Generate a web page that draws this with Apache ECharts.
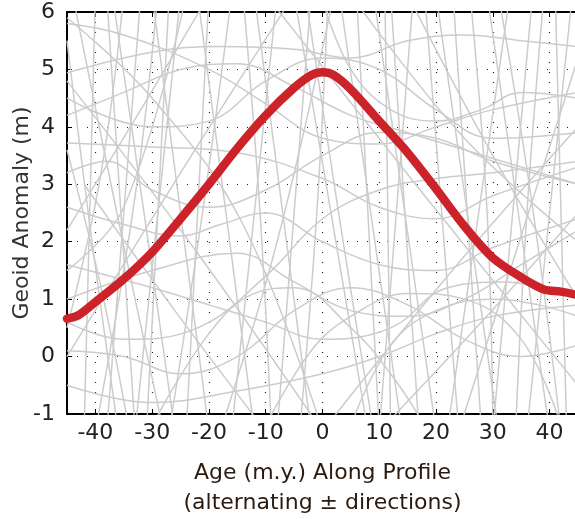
<!DOCTYPE html>
<html>
<head>
<meta charset="utf-8">
<script src="https://cdn.jsdelivr.net/npm/echarts@6/dist/echarts.min.js"></script>
<style>
  html, body { margin: 0; padding: 0; background: #fff; }
  #chart { width: 575px; height: 519px; }
</style>
</head>
<body>
<div id="chart"></div>
<script>
// stacked profile (red)
var profileAge = [-45, -43, -40, -35, -30, -25, -20, -15, -10, -5, -2, 0, 2, 5, 10, 15, 20, 25, 30, 35, 39, 42, 45]
var profileGeoid = [0.66, 0.72, 0.95, 1.35, 1.82, 2.4, 3.0, 3.63, 4.2, 4.68, 4.9, 4.95, 4.9, 4.65, 4.1, 3.55, 2.92, 2.27, 1.72, 1.38, 1.17, 1.13, 1.07]

// individual profiles (gray), steep ones
var steepProfiles = [
  [[-45, 5.5], [-41, 2.3], [-36, -1.3]],
  [[-44, 6.3], [-36, 2.4], [-28, -1.3]],
  [[-40, 6.3], [-41, 2.5], [-42, -1.3]],
  [[-38, 6.3], [-35.5, 2.5], [-33, -1.3]],
  [[-35, 6.3], [-39, 3.2], [-45, 0.5]],
  [[-32, 6.3], [-35, 2.5], [-38, -1.3]],
  [[-30, 6.3], [-25, 2.5], [-20, -1.3]],
  [[-27, 6.3], [-29, 2.5], [-31, -1.3]],
  [[-25, 6.3], [-29, 2.5], [-33, -1.3]],
  [[-22, 6.3], [-17, 2.5], [-12, -1.3]],
  [[-20, 6.3], [-22, 2.5], [-24, -1.3]],
  [[-16, 6.3], [-21, 2.6], [-27, -1.3]],
  [[-12, 6.3], [-7, 2.5], [-2, -1.3]],
  [[-8, 6.3], [-12, 2.5], [-16, -1.3]],
  [[-5, 6.3], [1.5, 2.5], [8, -1.3]],
  [[-2, 6.3], [-5, 2.5], [-8, -1.3]],
  [[3, 6.3], [8.5, 2.5], [14, -1.3]],
  [[6, 6.3], [8, 2.5], [10, -1.3]],
  [[9, 6.3], [14.5, 2.5], [20, -1.3]],
  [[12, 6.3], [14.5, 2.5], [17, -1.3]],
  [[16, 6.3], [13, 2.5], [10, -1.3]],
  [[20, 6.3], [25.5, 2.5], [31, -1.3]],
  [[23, 6.3], [25.5, 2.5], [28, -1.3]],
  [[29, 6.3], [34.5, 2.5], [40, -1.3]],
  [[33, 6.3], [27.5, 2.5], [22, -1.3]],
  [[37, 6.3], [33.5, 2.5], [30, -1.3]],
  [[41, 6.3], [42, 2.5], [43, -1.3]],
  [[44, 6.3], [40, 2.5], [36, -1.3]],
  [[-42, 3.0], [-26, 0.8], [-10, -1.3]],
  [[-45, 2.2], [-32, 4.3], [-20, 6.3]],
  [[-45, 0.0], [-25, 3.2], [-5, 6.3]],
  [[0, -1.3], [22, 1.4], [45, 4.0]],
  [[10, -1.3], [28, 0.6], [45, 2.5]],
  [[-10, 6.3], [18, 2.8], [45, -0.5]],
  [[-45, 4.8], [-22, 1.8], [0, -1.3]],
  [[15, 6.3], [30, 3.5], [45, 1.0]],
  [[24, -1.3], [34, 1.8], [45, 5.2]],
  [[-18, -1.3], [-8, 2.0], [2, 6.3]],
  [[5, 6.3], [25, 3.8], [45, 2.0]],
  [[-45, 5.9], [-30, 4.5], [-14, 2.3], [0, -1.3]],
  [[-37, 6.3], [-31, 2.2], [-26, -1.3]],
  [[-29, 6.3], [-33, 2.8], [-40, -1.3]],
  [[-14, 6.3], [-11, 2.5], [-9, -1.3]],
  [[-3, 6.3], [3, 2.4], [9, -1.3]],
  [[1, 6.3], [-1, 2.5], [-4, -1.3]],
  [[11, 6.3], [11.5, 2.5], [12, -1.3]],
  [[18, 6.3], [21, 2.5], [24, -1.3]],
  [[26, 6.3], [29, 2.5], [30, -1.3]],
  [[31, 6.3], [37, 2.6], [42, -1.3]],
  [[39, 6.3], [36, 2.5], [34, -1.3]],
  [[-24, 6.3], [-35, 2.6], [-45, 1.5]],
  [[-45, 3.6], [-39, 1.2], [-34, -1.3]]
]

// individual profiles (gray), wavy ones
var wavyProfiles = [
  [[-45, 4.94], [-30, 5.3], [-18, 5.4], [-5, 5.35], [5, 5.2], [15, 5.5], [25, 5.6], [35, 5.5], [45, 5.4]],
  [[-45, 3.72], [-30, 3.65], [-15, 3.55], [0, 3.1], [10, 2.6], [20, 2.4], [30, 2.8], [45, 3.3]],
  [[-45, 4.5], [-30, 4.0], [-20, 4.1], [-10, 4.8], [0, 5.2], [10, 5.0], [20, 4.3], [30, 3.8], [45, 3.9]],
  [[-45, 1.0], [-30, 1.5], [-15, 1.8], [-5, 1.3], [5, 0.8], [15, 0.7], [25, 1.0], [35, 1.6], [45, 2.2]],
  [[-45, 0.1], [-35, 0.0], [-25, -0.3], [-15, 0.0], [-5, 0.8], [5, 1.2], [15, 0.9], [25, 0.3], [35, 0.0], [45, 0.2]],
  [[-45, 2.6], [-35, 2.3], [-25, 2.1], [-18, 2.3], [-10, 2.5], [0, 2.0], [10, 1.6], [20, 1.5], [30, 1.9], [45, 2.4]],
  [[-45, -0.5], [-30, -0.8], [-15, -0.6], [0, -0.3], [10, 0.0], [20, 0.4], [30, 0.7], [45, 0.9]],
  [[-45, 5.8], [-35, 5.6], [-20, 5.0], [-10, 4.4], [0, 3.8], [10, 3.7], [20, 4.0], [30, 4.3], [45, 4.6]],
  [[-45, 3.2], [-38, 3.4], [-30, 2.9], [-20, 2.6], [-10, 2.9], [0, 3.5], [10, 3.9], [20, 3.8], [30, 3.4], [45, 3.0]],
  [[-45, 1.6], [-30, 1.2], [-20, 0.9], [-10, 0.6], [0, 0.3], [12, 0.5], [22, 1.2], [32, 1.3], [45, 1.0]],
  [[-30, -1.2], [-20, 0.4], [-12, 1.1], [-5, 1.2], [5, 0.5], [12, -0.3], [18, -1.2]],
  [[-10, -1.2], [-2, 0.1], [5, 0.7], [15, 1.1], [25, 1.0], [35, 0.3], [42, -1.2]],
  [[0, 6.2], [5, 5.0], [12, 4.3], [20, 4.1], [28, 4.3], [35, 4.6], [45, 4.5]],
  [[-45, 4.2], [-35, 4.6], [-25, 5.0], [-15, 5.1], [-5, 4.7], [5, 4.2], [15, 3.9], [25, 3.6], [35, 3.3], [45, 3.0]],
  [[-45, 0.6], [-35, 0.3], [-22, 0.5], [-10, 1.4], [0, 2.4], [10, 2.9], [20, 3.1], [30, 3.2], [45, 3.4]],
  [[5, -1.2], [12, 0.2], [20, 0.8], [30, 1.0], [38, 0.9], [45, 0.7]]
]

var yTicks = [-1, 0, 1, 2, 3, 4, 5, 6]

var chart = echarts.init(document.getElementById('chart'))

var font = 'DejaVu Sans'
var grayStyle = { color: '#cccccc', width: 1.5 }

var series = steepProfiles.concat(wavyProfiles).map(function (p) {
  return {
    type: 'line',
    data: p,
    smooth: 0.4,
    symbol: 'none',
    silent: true,
    lineStyle: grayStyle,
    z: 1
  }
})

series.push({
  name: 'stack',
  type: 'line',
  data: profileAge.map(function (a, i) { return [a, profileGeoid[i]] }),
  smooth: 0.3,
  symbol: 'none',
  lineStyle: { color: '#cc2229', width: 8.5, cap: 'round' },
  z: 5
})

chart.setOption({
  animation: false,
  grid: { left: 67, top: 12, width: 511, height: 402, outerBoundsMode: 'none', containLabel: false },
  xAxis: [
    {
      type: 'value',
      min: -45,
      max: 45,
      splitNumber: 9,
      axisLine: { onZero: false, lineStyle: { color: '#000', width: 2 } },
      axisTick: { inside: true, length: 5, lineStyle: { color: '#000' } },
      axisLabel: {
        showMinLabel: false,
        showMaxLabel: false,
        color: '#222',
        fontFamily: font,
        fontSize: 22,
        margin: 8
      },
      splitLine: { show: true, lineStyle: { color: '#222', type: [1, 9], width: 1.2 } },
      name: 'Age (m.y.) Along Profile\n(alternating \u00b1 directions)',
      nameLocation: 'middle',
      nameGap: 44,
      nameMoveOverlap: false,
      nameTextStyle: { color: '#2b1a0e', fontFamily: font, fontSize: 22, lineHeight: 30 }
    },
    {
      type: 'value',
      position: 'top',
      min: -45,
      max: 45,
      splitNumber: 9,
      axisLine: { onZero: false, lineStyle: { color: '#000', width: 2 } },
      axisTick: { inside: true, length: 5, lineStyle: { color: '#000' } },
      axisLabel: { show: false },
      splitLine: { show: false }
    }
  ],
  yAxis: {
    type: 'value',
    min: yTicks[0],
    max: yTicks[yTicks.length - 1],
    interval: 1,
    axisLine: { show: true, onZero: false, lineStyle: { color: '#000', width: 2 } },
    axisTick: { show: true, inside: true, length: 5, lineStyle: { color: '#000' } },
    axisLabel: { color: '#222', fontFamily: font, fontSize: 22, margin: 12 },
    splitLine: { show: true, lineStyle: { color: '#222', type: [1, 9], width: 1.2 } },
    name: 'Geoid Anomaly (m)',
    nameLocation: 'middle',
    nameGap: 34,
    nameMoveOverlap: false,
    nameTextStyle: { color: '#333', fontFamily: font, fontSize: 22 }
  },
  series: series
})
</script>
</body>
</html>
